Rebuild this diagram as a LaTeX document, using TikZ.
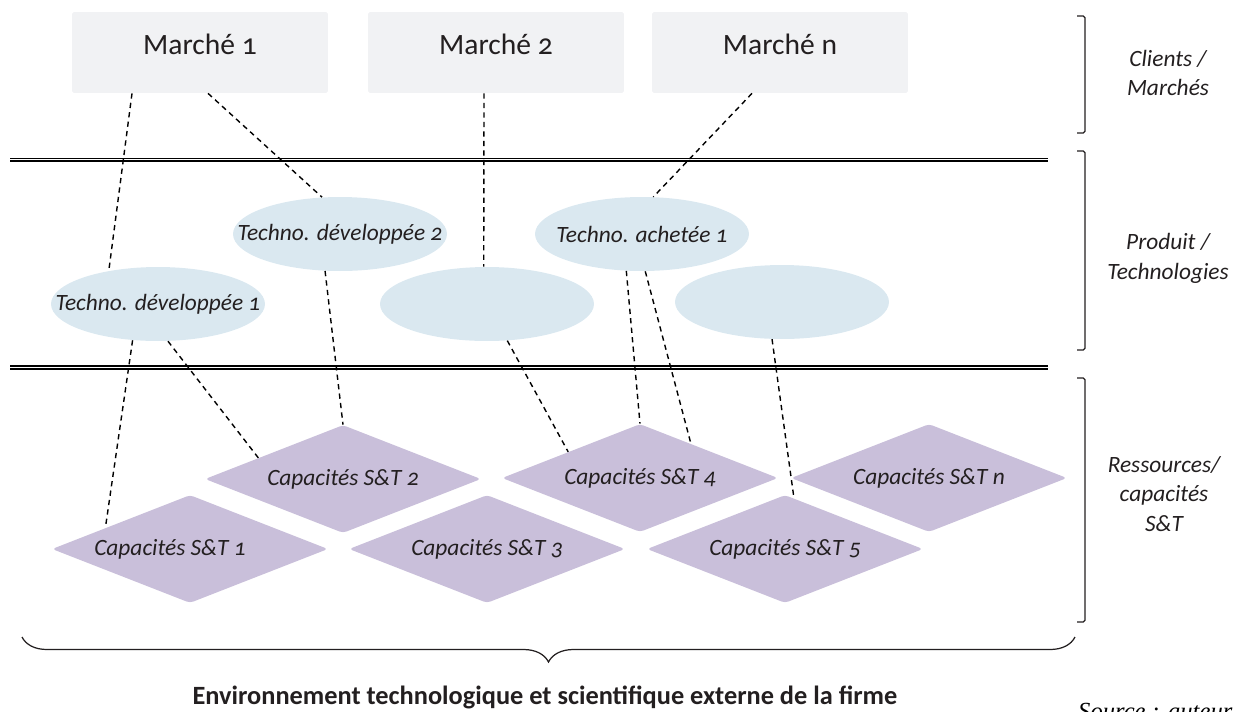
\documentclass[tikz,border=0pt]{standalone}
\usepackage{fontspec}
\setmainfont{Carlito}[Numbers=OldStyle]
\newfontfamily\srcfont{Liberation Serif}
\usetikzlibrary{shapes.geometric,decorations.pathreplacing}

\definecolor{marchefill}{HTML}{F1F2F4}
\definecolor{technofill}{HTML}{DAE8F0}
\definecolor{capafill}{HTML}{C9BFDA}
\definecolor{inkgray}{HTML}{231F20}

\tikzset{
  marche/.style={rectangle, fill=marchefill, rounded corners=1pt, minimum width=5.12cm, minimum height=1.62cm, inner sep=0pt},
  techno/.style={ellipse, fill=technofill, minimum width=4.28cm, minimum height=1.48cm, inner sep=0pt},
  capa/.style={diamond, fill=capafill, rounded corners=2pt, minimum width=5.52cm, minimum height=2.16cm, inner sep=0pt},
  mlab/.style={font=\fontsize{16.8}{20}\selectfont, text=inkgray, yshift=0.17cm},
  itlab/.style={font=\itshape\fontsize{13.3}{17}\selectfont, text=inkgray},
  lien/.style={dash pattern=on 3pt off 2.4pt, line width=0.8pt},
  regle/.style={line width=0.9pt},
  crochet/.style={line width=0.7pt, rounded corners=1pt, draw=inkgray}
}

\begin{document}
\begin{tikzpicture}[x=0.02cm, y=-0.02cm]
    \useasboundingbox (0,0) rectangle (1234,711);

    \node[marche, label={[mlab]center:Marché 1}] (m1) at (200,52.5) {};
    \node[marche, label={[mlab]center:Marché 2}] (m2) at (496,52.5) {};
    \node[marche, label={[mlab]center:Marché n}] (mn) at (780,52.5) {};

    \draw[regle] (10,158.3) -- (1048,158.3);
    \draw[regle] (10,161) -- (1048,161);
    \draw[regle] (10,366) -- (1048,366);
    \draw[regle] (10,368.7) -- (1048,368.7);

    \node[techno, label={[itlab]center:Techno. développée 1}] (e1) at (158,304) {};
    \node[techno, label={[itlab]center:Techno. développée 2}] (e2) at (340,234) {};
    \node[techno] (e3) at (487,304) {};
    \node[techno, label={[itlab]center:Techno. achetée 1}] (e4) at (642,234) {};
    \node[techno] (e5) at (782,302) {};

    \node[capa, label={[itlab, xshift=-0.4cm]center:Capacités S\&T 1}] (d1) at (190,549) {};
    \node[capa, label={[itlab]center:Capacités S\&T 2}] (d2) at (343,479) {};
    \node[capa, label={[itlab]center:Capacités S\&T 3}] (d3) at (487,549) {};
    \node[capa, label={[itlab]center:Capacités S\&T 4}] (d4) at (640,478) {};
    \node[capa, label={[itlab]center:Capacités S\&T 5}] (d5) at (785,549) {};
    \node[capa, label={[itlab]center:Capacités S\&T n}] (dn) at (929,478) {};

    \draw[lien] ([xshift=-1.36cm]m1.south) -- (e1.146);
    \draw[lien] ([xshift=0.16cm]m1.south) -- (e2.116);
    \draw[lien] ([xshift=-0.24cm]m2.south) -- (e3.95);
    \draw[lien] ([xshift=-0.56cm]mn.south) -- (e4.73);

    \draw[lien] (e1.235) -- (d1.166);
    \draw[lien] (e1.285) -- (d2.166);
    \draw[lien] (e2.248) -- (d2.north);
    \draw[lien] (e3.299) -- (d4.160);
    \draw[lien] (e4.247) -- (d4.north);
    \draw[lien] (e4.275) -- (d4.34);
    \draw[lien] (e5.255) -- (d5.80);

    \draw[crochet] (1077,16) -- (1085,16) -- (1085,133) -- (1077,133);
    \draw[crochet] (1077,151) -- (1085,151) -- (1085,350) -- (1077,350);
    \draw[crochet] (1077,378) -- (1085,378) -- (1085,622) -- (1077,622);

    \node[itlab, font=\itshape\fontsize{13.3}{17}\selectfont, align=center] (clients) at (1168,73) {Clients /\\Marchés};
    \node[itlab, font=\itshape\fontsize{13.3}{17}\selectfont, align=center] (produit) at (1168,258) {Produit /\\Technologies};
    \node[itlab, font=\itshape\fontsize{13.3}{17}\selectfont, align=center] (ressources) at (1164,494) {Ressources/\\capacités\\S\&T};

    \draw[line width=0.7pt, draw=inkgray, decorate, decoration={brace, mirror, amplitude=0.5cm}] (22,637) -- (1075,637);

    \node[font=\bfseries\fontsize{15}{18}\selectfont, text=inkgray] (environnement) at (545,697) {Environnement technologique et scientifique externe de la firme};
    \node[font=\srcfont\itshape\fontsize{14}{16}\selectfont, anchor=base west] (source) at (1072,719) {Source : auteur};
\end{tikzpicture}
\end{document}
